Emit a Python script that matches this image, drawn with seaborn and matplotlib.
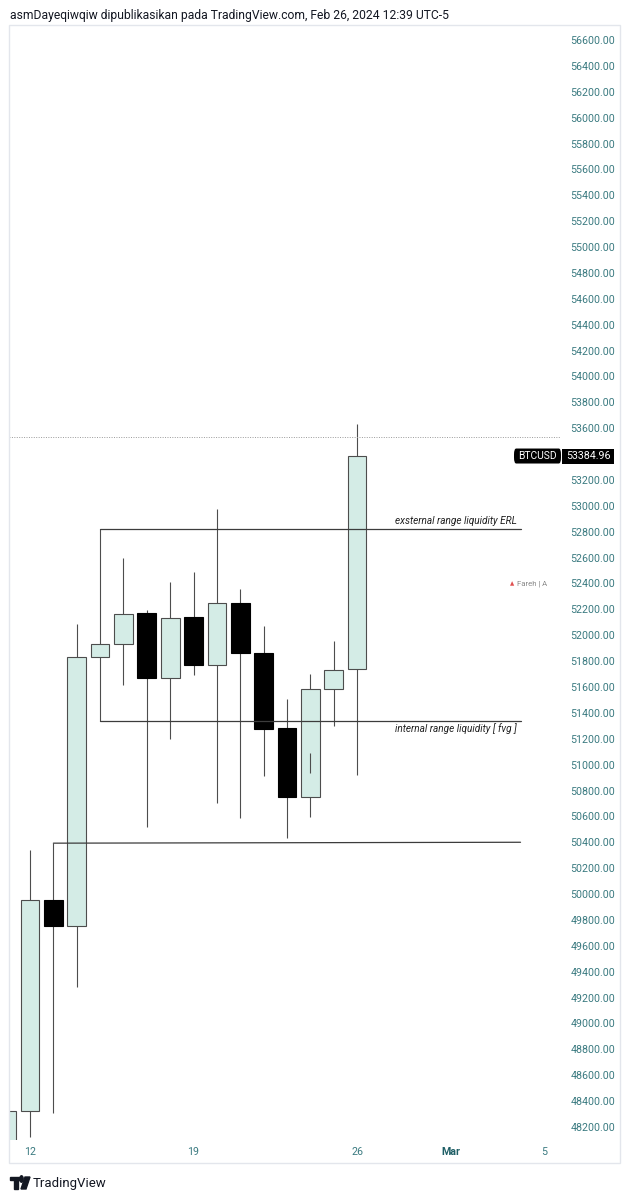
import matplotlib as mpl
import matplotlib.dates as mdates
import numpy as np
import pandas as pd
import seaborn as sns
from matplotlib import pyplot
from matplotlib import patches

# %% -- data ---------------------------------------------------------------- #
dates = pd.date_range("2024-02-11", "2024-02-26", freq="D")
opens = [47950, 48320, 49950, 49750, 51830, 51930, 52170, 51672,
         52138, 51772, 52251, 51860, 51281, 50749, 51584, 51741]
highs = [48330, 50340, 50395, 52090, 52820, 52595, 52195, 52410,
         52485, 52972, 52359, 52069, 51510, 51697, 51959, 53630]
lows = [47800, 48120, 48310, 49280, 51340, 51615, 50515, 51200,
        51695, 50706, 50590, 50911, 50436, 50598, 51302, 50916]
closes = [48320, 49950, 49750, 51835, 51935, 52165, 51672, 52130,
          51772, 52251, 51859, 51279, 50749, 51584, 51730, 53384.96]

# drawn levels: (start date, end date, start price, end price)
level_start = ["2024-02-15", "2024-02-15", "2024-02-13"]
level_end = ["2024-03-04", "2024-03-04", "2024-03-04"]
level_p0 = [52820, 51340, 50393]
level_p1 = [52820, 51340, 50400]
level_text = ["exsternal range liquidity ERL", "internal range liquidity [ fvg ]", ""]

# short stray mark inside the Feb 24 candle
mark_date = "2024-02-24"
mark_lo, mark_hi = 50932, 51086

dotted_price = 53530
last_price = 53384.96

yticks = np.arange(48200, 56601, 200)
hidden_tick = 53400   # covered by the price tag
xtick_dates = ["2024-02-12", "2024-02-19", "2024-02-26", "2024-03-01", "2024-03-05"]
xtick_labels = ["12", "19", "26", "Mar", "5"]

# %% -- style --------------------------------------------------------------- #
sns.set_theme(style="white")
mpl.rcParams['font.family'] = ['Roboto', 'DejaVu Sans']

up_fill = "#d4ece6"
edge_col = "#4d4d4d"
scale_col = "#3a7a80"

W, H = 631, 1200
f = pyplot.figure(figsize=(W / 100, H / 100), dpi=100)
ax = f.add_axes([9 / W, 1 - 1140 / H, 551 / W, 1115 / H])

d0 = mdates.date2num(pd.Timestamp("2024-02-12"))
ax.set_xlim(d0 - 0.9, d0 + 22.69)
ax.set_ylim(48099, 56716)

# %% -- candles ------------------------------------------------------------- #
o = np.array(opens, float)
c = np.array(closes, float)
up = c >= o
x = mdates.date2num(dates)

ax.vlines(x, lows, highs, color=edge_col, linewidth=0.8, zorder=1)
ax.bar(x[up], (c - o)[up], bottom=o[up], width=0.8, color=up_fill,
       edgecolor=edge_col, linewidth=0.8, zorder=2)
ax.bar(x[~up], (c - o)[~up], bottom=o[~up], width=0.8, color="black",
       edgecolor="black", linewidth=0.8, zorder=2)
ax.vlines(mdates.date2num(pd.Timestamp(mark_date)), mark_lo, mark_hi,
          color=edge_col, linewidth=0.8, zorder=3)

# %% -- levels -------------------------------------------------------------- #
for s, e, p0, p1 in zip(level_start, level_end, level_p0, level_p1):
    xs = mdates.date2num(pd.Timestamp(s))
    xe = mdates.date2num(pd.Timestamp(e))
    ax.plot([xs, xe], [p0, p1], color="#3c3c3c", linewidth=0.9, zorder=4)

ax.text(mdates.date2num(pd.Timestamp(level_end[0])) - 0.15, level_p0[0] + 22,
        level_text[0], ha="right", va="bottom", fontsize=7.2, style="italic",
        color="#222222")
ax.text(mdates.date2num(pd.Timestamp(level_end[1])) - 0.15, level_p1[1] - 22,
        level_text[1], ha="right", va="top", fontsize=7.2, style="italic",
        color="#222222")

ax.axhline(dotted_price, color="#9a9a9a", linewidth=0.7, linestyle=(0, (1, 1.5)), zorder=1)

# %% -- axes ---------------------------------------------------------------- #
for sp in ax.spines.values():
    sp.set_visible(False)
ax.yaxis.tick_right()
ax.set_yticks(yticks)
ax.set_yticklabels(["" if v == hidden_tick else f"{v:.2f}" for v in yticks],
                   fontsize=7.7, color=scale_col)
ax.tick_params(axis="y", length=0, pad=7.5)
ax.set_xticks([mdates.date2num(pd.Timestamp(d)) for d in xtick_dates])
ax.set_xticklabels(xtick_labels, fontsize=7.7, color=scale_col)
ax.tick_params(axis="x", length=0, pad=5)
for lab in ax.get_xticklabels():
    if lab.get_text() == "Mar":
        lab.set_fontweight("bold")
        lab.set_color("#1f5f66")

# price tags
def px(xp):
    return (xp - 9) / 551

ytr = ax.get_yaxis_transform()
tag_h = 15 / 0.1294
ax.add_patch(patches.FancyBboxPatch((px(514), last_price - tag_h / 2), px(561) - px(514), tag_h,
                                    boxstyle="round,pad=0,rounding_size=0.004",
                                    transform=ytr, fc="black", ec="none", clip_on=False, zorder=6,
                                    mutation_aspect=tag_h / 0.01))
ax.add_patch(patches.Rectangle((px(562), last_price - tag_h / 2), px(614) - px(562), tag_h,
                               transform=ytr, fc="black", ec="none", clip_on=False, zorder=6))
ax.text((px(514) + px(561)) / 2, last_price, "BTCUSD", transform=ytr,
        ha="center", va="center", fontsize=7.4, color="white", clip_on=False, zorder=7)
ax.text((px(562) + px(614)) / 2, last_price, f"{last_price:.2f}", transform=ytr,
        ha="center", va="center", fontsize=7.7, color="white", clip_on=False, zorder=7)
ax.text(px(510), 52400, "\u25b2", transform=ytr,
        ha="left", va="center", fontsize=4, color="#e05050", clip_on=False)
ax.text(px(517), 52400, "Fareh | A", transform=ytr,
        ha="left", va="center", fontsize=5.6, color="#8a8a8a", clip_on=False)

# frame
f.patches.append(patches.Rectangle((9 / W, 1 - 1163 / H), 611 / W, 1138 / H,
                                   transform=f.transFigure, fill=False,
                                   edgecolor="#e3e6ec", linewidth=1))

# header and footer
f.text(10 / W, 1 - 15 / H,
       "asmDayeqiwqiw dipublikasikan pada TradingView.com, Feb 26, 2024 12:39 UTC-5",
       ha="left", va="center", fontsize=8.7, color="#131722")
f.patches.append(patches.Rectangle((10 / W, 1 - 1180 / H), 9 / W, 3 / H,
                                   transform=f.transFigure, color="#131722"))
f.patches.append(patches.Rectangle((14 / W, 1 - 1189 / H), 4 / W, 10 / H,
                                   transform=f.transFigure, color="#131722"))
f.patches.append(patches.Circle((21.5 / W, 1 - 1179 / H), 1.7 / W,
                                transform=f.transFigure, color="#131722"))
f.patches.append(patches.Polygon([(25 / W, 1 - 1177 / H), (30 / W, 1 - 1177 / H),
                                  (26 / W, 1 - 1189 / H), (21 / W, 1 - 1189 / H)],
                                 closed=True, transform=f.transFigure, color="#131722"))
f.text(33 / W, 1 - 1183 / H, "TradingView", ha="left", va="center",
       fontsize=9.5, color="#131722")

pyplot.savefig("out.png", dpi=100)
